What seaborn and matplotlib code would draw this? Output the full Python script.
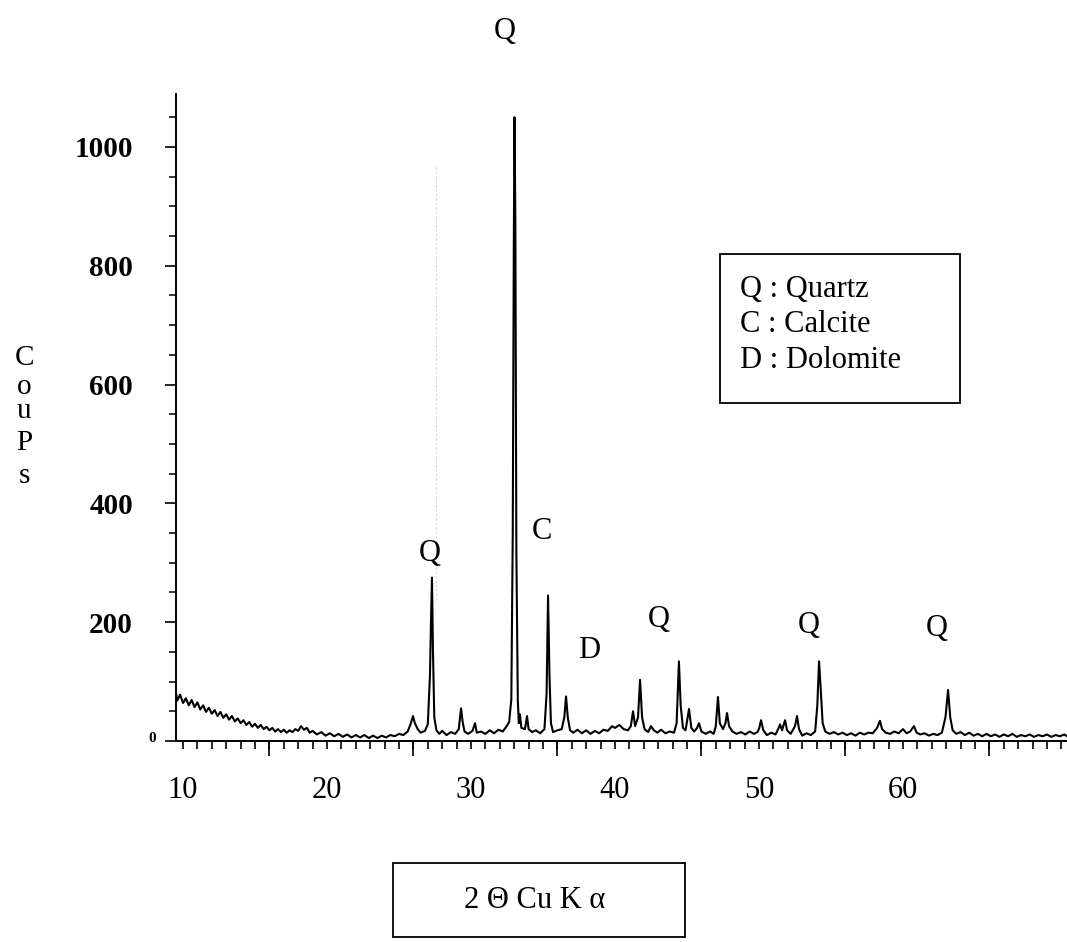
import numpy as np
import pandas as pd
import matplotlib
matplotlib.use("Agg")
import matplotlib.pyplot as plt
import seaborn as sns
from matplotlib.patches import Rectangle

# ---------------- data ----------------
two_theta = [
    9.52, 9.6, 9.8, 10.0, 10.2, 10.4, 10.6, 10.8, 11.0, 11.2, 11.4, 11.6, 11.8,
    12.0, 12.2, 12.4, 12.6, 12.8, 13.0, 13.2, 13.4, 13.6, 13.8, 14.0, 14.2, 14.4,
    14.6, 14.8, 15.0, 15.2, 15.4, 15.6, 15.8, 16.0, 16.2, 16.4, 16.6, 16.8, 17.0,
    17.2, 17.4, 17.6, 17.8, 18.0, 18.2, 18.4, 18.6, 18.8, 19.0, 19.3, 19.6, 19.9,
    20.2, 20.5, 20.8, 21.1, 21.4, 21.7, 22.0, 22.3, 22.6, 22.9, 23.2, 23.5, 23.8,
    24.1, 24.4, 24.7, 25.0, 25.3, 25.6, 25.8, 25.97, 26.1, 26.3, 26.5, 26.8, 27.0,
    27.15, 27.22, 27.29, 27.36, 27.45, 27.6, 27.8, 28.0, 28.3, 28.6, 28.9, 29.15,
    29.31, 29.42, 29.55, 29.8, 30.1, 30.28, 30.4, 30.7, 31.0, 31.3, 31.6, 31.9,
    32.2, 32.45, 32.65, 32.8, 32.9, 32.97, 33.02, 33.08, 33.15, 33.25, 33.32,
    33.40, 33.5, 33.75, 33.89, 34.0, 34.25, 34.5, 34.8, 35.1, 35.25, 35.35, 35.45,
    35.55, 35.7, 36.0, 36.3, 36.48, 36.60, 36.72, 36.88, 37.1, 37.4, 37.7, 38.0,
    38.3, 38.6, 38.9, 39.2, 39.5, 39.8, 40.0, 40.3, 40.6, 40.9, 41.1, 41.25, 41.4,
    41.6, 41.74, 41.88, 42.05, 42.3, 42.5, 42.7, 42.95, 43.2, 43.5, 43.8, 44.1,
    44.28, 44.44, 44.56, 44.72, 44.9, 45.14, 45.3, 45.5, 45.7, 45.83, 46.0, 46.3,
    46.6, 46.85, 47.0, 47.15, 47.28, 47.5, 47.67, 47.78, 47.92, 48.15, 48.45,
    48.75, 49.05, 49.35, 49.65, 49.9, 50.02, 50.14, 50.3, 50.55, 50.85, 51.15,
    51.33, 51.46, 51.6, 51.81, 51.95, 52.2, 52.5, 52.64, 52.78, 53.0, 53.3, 53.6,
    53.9, 54.05, 54.17, 54.28, 54.42, 54.6, 54.9, 55.2, 55.5, 55.8, 56.1, 56.4,
    56.7, 57.0, 57.3, 57.6, 57.9, 58.2, 58.40, 58.55, 58.8, 59.1, 59.4, 59.7,
    60.0, 60.25, 60.5, 60.76, 60.95, 61.2, 61.5, 61.8, 62.1, 62.4, 62.7, 62.95,
    63.13, 63.28, 63.45, 63.7, 64.0, 64.3, 64.6, 64.9, 65.2, 65.5, 65.8, 66.1,
    66.4, 66.7, 67.0, 67.3, 67.6, 67.9, 68.2, 68.5, 68.8, 69.1, 69.4, 69.7, 70.0,
    70.3, 70.6, 70.9, 71.2, 71.4,
]
counts = [
    80, 68, 78, 64, 72, 60, 69, 57, 65, 53, 60, 49, 56,
    46, 52, 42, 49, 39, 45, 36, 42, 33, 38, 30, 35, 27,
    32, 24, 29, 22, 27, 20, 24, 18, 22, 16, 20, 15, 19,
    14, 18, 15, 20, 17, 25, 19, 22, 14, 17, 11, 15, 9,
    13, 8, 12, 7, 11, 6, 10, 6, 10, 5, 9, 5, 9,
    6, 10, 8, 12, 10, 16, 28, 42, 30, 20, 14, 17, 28,
    110, 200, 275, 150, 40, 18, 12, 17, 10, 15, 12, 20,
    55, 32, 16, 12, 17, 30, 14, 16, 12, 18, 13, 19,
    16, 24, 32, 70, 350, 820, 1050, 880, 320, 70, 30,
    45, 22, 20, 42, 20, 15, 18, 13, 20, 80, 245, 110,
    30, 15, 18, 20, 40, 75, 40, 18, 14, 19, 13, 18,
    12, 17, 13, 19, 17, 25, 22, 27, 20, 18, 25, 50, 25,
    40, 103, 40, 20, 15, 25, 18, 14, 19, 13, 16, 14,
    30, 134, 60, 22, 18, 54, 22, 16, 22, 30, 16, 12,
    16, 12, 25, 74, 30, 20, 30, 47, 25, 16, 12,
    15, 11, 16, 12, 15, 22, 35, 18, 10, 14, 11,
    20, 28, 18, 35, 18, 12, 25, 42, 20, 9, 13, 10,
    16, 60, 134, 90, 30, 16, 12, 15, 11, 14, 10, 13,
    9, 14, 11, 14, 13, 22, 34, 20, 14, 12, 16, 13,
    20, 13, 16, 25, 14, 11, 13, 9, 12, 10, 14, 40,
    86, 40, 18, 12, 15, 10, 14, 9, 12, 8, 12, 8,
    11, 7, 11, 8, 12, 7, 10, 8, 11, 7, 10, 8, 11,
    7, 10, 8, 11, 8,
]

peak_labels = ["Q", "Q", "C", "D", "Q", "Q", "Q"]
label_two_theta = [32.36, 27.15, 34.93, 38.19, 43.06, 53.47, 62.36]
label_counts = [1194, 316, 352, 152, 204, 195, 190]

legend_lines = ["Q : Quartz", "C : Calcite", "D : Dolomite"]
x_tick_values = [10, 20, 30, 40, 50, 60]
y_tick_values = [0, 200, 400, 600, 800, 1000]
x_title = "2 \u0398 Cu K \u03b1"
y_title_letters = ["C", "o", "u", "P", "s"]

# faint scanning streak visible in the original
streak_two_theta = [27.57]
streak_range = [237, 970]

# ---------------- style ----------------
sns.set_style("ticks")
plt.rcParams["font.family"] = ["Liberation Serif", "DejaVu Serif"]
plt.rcParams["axes.edgecolor"] = "black"
plt.rcParams["text.color"] = "black"
plt.rcParams["xtick.color"] = "black"
plt.rcParams["ytick.color"] = "black"
plt.rcParams["xtick.labelcolor"] = "black"
plt.rcParams["ytick.labelcolor"] = "black"

W, H = 1067, 942
fig = plt.figure(figsize=(W / 100, H / 100), dpi=100)
fig.patch.set_facecolor("white")


def fx(px):
    return px / W


def fy(py):
    return 1 - py / H


ax = fig.add_axes([fx(176), fy(741), fx(1067) - fx(176), fy(93.5) - fy(741)])
ax.set_facecolor("white")

df = pd.DataFrame({"two_theta": two_theta, "counts": counts})
sns.lineplot(data=df, x="two_theta", y="counts", ax=ax, color="black",
             linewidth=1.5, sort=False, estimator=None)

ax.vlines(streak_two_theta, streak_range[0], streak_range[1],
          color="#d8d8d8", linewidth=0.8, linestyles=(0, (2, 2)), zorder=0)

ax.set_xlim(9.514, 71.389)
ax.set_ylim(0, 1090)
ax.set_xlabel("")
ax.set_ylabel("")

for s in ["top", "right"]:
    ax.spines[s].set_visible(False)
for s in ["left", "bottom"]:
    ax.spines[s].set_linewidth(1.4)
    ax.spines[s].set_color("black")

# x axis: labels at decades, short ticks each degree, long ticks offset
ax.xaxis.remove_overlapping_locs = False
ax.set_xticks(x_tick_values)
ax.set_xticklabels([str(v) for v in x_tick_values], fontsize=22, color="black")
ax.tick_params(axis="x", which="major", length=0, pad=25)
ax.set_xticks(np.arange(10, 72, 1), minor=True)
ax.tick_params(axis="x", which="minor", length=6, width=1.2,
               direction="out", color="black")

sec = ax.secondary_xaxis("bottom")
sec.set_xticks([16, 26, 36, 46, 56, 66])
sec.set_xticklabels([])
sec.tick_params(length=11, width=1.2, color="black")
sec.spines["bottom"].set_visible(False)

# y axis
ax.set_yticks(y_tick_values)
ax.set_yticklabels([""] + [str(v) for v in y_tick_values[1:]],
                   fontsize=21, fontweight="bold", color="black")
ax.tick_params(axis="y", which="major", length=8, width=1.2, pad=23,
               direction="out", color="black")
ax.set_yticks(np.arange(0, 1100, 50), minor=True)
ax.tick_params(axis="y", which="minor", length=5, width=1.1,
               direction="out", color="black")
ax.annotate("0", xy=(0, 0), xycoords=("axes fraction", "data"),
            xytext=(-17.3, 2), textcoords="offset points",
            ha="center", va="center", fontsize=11, fontweight="bold")

# peak labels
for lab, xv, yv in zip(peak_labels, label_two_theta, label_counts):
    ax.text(xv, yv, lab, ha="center", va="center", fontsize=22, clip_on=False)

# vertical "Coups" title
for letter, base in zip(y_title_letters, [365, 394, 418, 450, 483]):
    fig.text(fx(24), fy(base), letter, ha="center", va="baseline", fontsize=21)

# legend box
fig.add_artist(Rectangle((fx(720), fy(403)), fx(960) - fx(720), fy(254) - fy(403),
                         transform=fig.transFigure, fill=False,
                         edgecolor="black", linewidth=1.3))
for line, yc in zip(legend_lines, [290, 325, 360]):
    fig.text(fx(740), fy(yc), line, ha="left", va="center", fontsize=22)

# x title box
fig.add_artist(Rectangle((fx(393), fy(937)), fx(685) - fx(393), fy(863) - fy(937),
                         transform=fig.transFigure, fill=False,
                         edgecolor="black", linewidth=1.3))
fig.text(fx(535), fy(900), x_title, ha="center", va="center", fontsize=22)

fig.savefig("out.png", dpi=100, facecolor="white")
